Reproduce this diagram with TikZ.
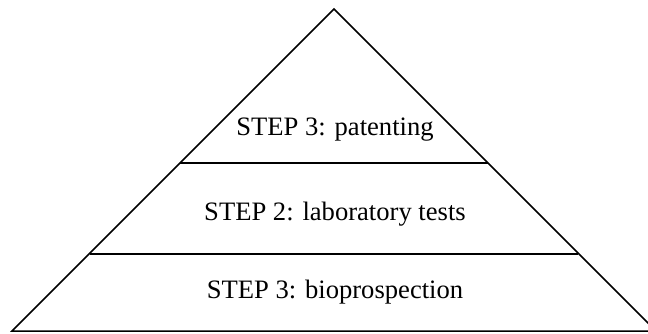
\documentclass[tikz,border=0pt]{standalone}
\usepackage{fontspec}
\setmainfont{Liberation Serif}
\usetikzlibrary{positioning}

\tikzset{
	steplabel/.style={anchor=base, inner sep=0pt, font=\fontsize{13.3}{16}\selectfont},
	tierline/.style={line width=1.3pt},
	outline/.style={line width=0.75pt, line join=miter}
}

\begin{document}
\begin{tikzpicture}[x=0.5pt, y=-0.5pt]
	\useasboundingbox (0,0) rectangle (648,333);
	\clip (0,0) rectangle (648,333);
	
	% PYRAMID OUTLINE
	\coordinate (apex) at (334, 9);
	\coordinate (base-left) at (12, 331);
	\coordinate (base-right) at (656, 331);
	
	\draw[outline] (base-left) -- (apex) -- (base-right) -- cycle;
	
	% TIER LINES
	\coordinate (top-left) at (180, 163);
	\coordinate (top-right) at (488, 163);
	\coordinate (mid-left) at (90, 254);
	\coordinate (mid-right) at (578, 254);
	
	\draw[tierline] (top-left) -- (top-right);
	\draw[tierline] (mid-left) -- (mid-right);
	
	% STEP LABELS
	\node[steplabel] (patenting) at (335, 135) {STEP 3: patenting};
	\node[steplabel] (labtests) at (335, 220) {STEP 2: laboratory tests};
	\node[steplabel] (bioprosp) at (335, 298) {STEP 3: bioprospection};
\end{tikzpicture}
\end{document}
